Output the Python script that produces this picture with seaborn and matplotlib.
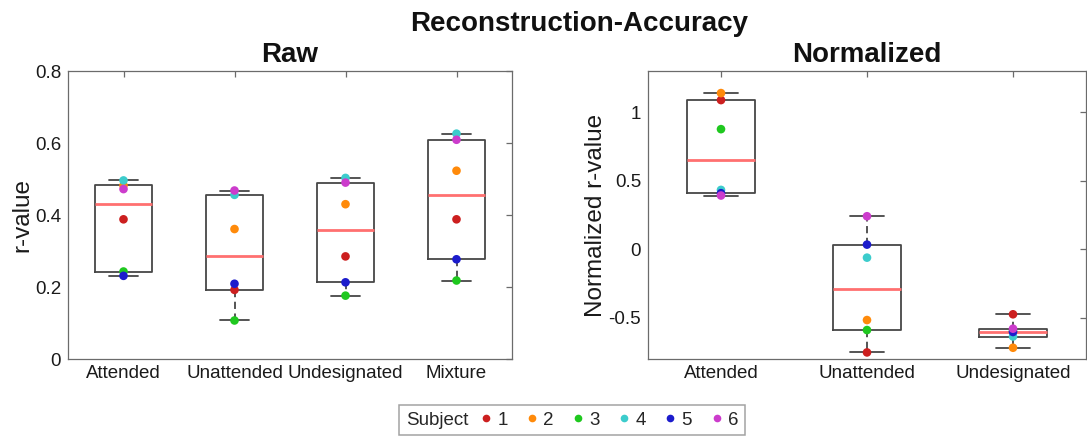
import numpy as np
import pandas as pd
import matplotlib
matplotlib.use("Agg")
import matplotlib as mpl
import matplotlib.pyplot as plt
from matplotlib.lines import Line2D
from matplotlib.ticker import FuncFormatter
from matplotlib.offsetbox import HPacker
import seaborn as sns

# ---------------- data ----------------
subjects = ["1", "2", "3", "4", "5", "6"]
subject_colors = ["#CC1F1F", "#FF8A0A", "#1FC81F", "#3CCCCC", "#1C1CCC", "#CC3CCC"]

raw_categories = ["Attended", "Unattended", "Undesignated", "Mixture"]
raw_attended = [0.388, 0.482, 0.243, 0.496, 0.231, 0.472]
raw_unattended = [0.192, 0.361, 0.107, 0.456, 0.209, 0.468]
raw_undesignated = [0.285, 0.430, 0.176, 0.503, 0.213, 0.490]
raw_mixture = [0.388, 0.523, 0.218, 0.626, 0.277, 0.609]

norm_categories = ["Attended", "Unattended", "Undesignated"]
norm_attended = [1.088, 1.139, 0.876, 0.433, 0.409, 0.392]
norm_unattended = [-0.752, -0.516, -0.589, -0.061, 0.034, 0.241]
norm_undesignated = [-0.474, -0.718, -0.597, -0.636, -0.603, -0.579]

raw_yticks = [0, 0.2, 0.4, 0.6, 0.8]
norm_yticks = [-0.5, 0, 0.5, 1]

suptitle = "Reconstruction-Accuracy"
raw_title = "Raw"
norm_title = "Normalized"
raw_ylabel = "r-value"
norm_ylabel = "Normalized r-value"
legend_title = "Subject"


def long_df(categories, series):
    rows = []
    for cat, vals in zip(categories, series):
        for s, v in zip(subjects, vals):
            rows.append((cat, s, v))
    return pd.DataFrame(rows, columns=["Condition", "Subject", "value"])


raw_df = long_df(raw_categories, [raw_attended, raw_unattended, raw_undesignated, raw_mixture])
norm_df = long_df(norm_categories, [norm_attended, norm_unattended, norm_undesignated])

# MATLAB-style quartiles (prctile uses midpoint / "hazen" interpolation)
_orig_stats = mpl.cbook.boxplot_stats


def _prctile_stats(X, whis=1.5, bootstrap=None, labels=None, autorange=False):
    out = _orig_stats(X, whis=whis, bootstrap=bootstrap, labels=labels, autorange=autorange)
    for st, x in zip(out, X):
        q1, med, q3 = np.percentile(np.asarray(x, float), [25, 50, 75], method="hazen")
        st["q1"], st["med"], st["q3"], st["iqr"] = q1, med, q3, q3 - q1
    return out


mpl.cbook.boxplot_stats = _prctile_stats

# ---------------- style ----------------
sns.set_theme(style="white")
plt.rcParams["font.family"] = ["Liberation Sans", "DejaVu Sans"]

W, H = 1087, 437
fig = plt.figure(figsize=(W / 100, H / 100), dpi=100)

spine_color = "#6b6b6b"
box_color = "#474747"
median_color = "#FF7070"


def panel(rect, df, categories, width, ylim, yticks, title, ylabel):
    ax = fig.add_axes(rect)
    sns.boxplot(data=df, x="Condition", y="value", order=categories, ax=ax,
                width=width, whis=(0, 100), fill=False, color=box_color,
                linecolor=box_color, linewidth=1.3, showfliers=False,
                medianprops=dict(color=median_color, linewidth=2.0),
                whiskerprops=dict(linestyle=(0, (4, 2.5))))
    sns.stripplot(data=df, x="Condition", y="value", order=categories,
                  hue="Subject", hue_order=subjects, palette=subject_colors,
                  jitter=False, size=6.2, linewidth=0, ax=ax, legend=False,
                  zorder=4)
    ax.set_xlim(-0.5, len(categories) - 0.5)
    ax.set_ylim(*ylim)
    ax.set_yticks(yticks)
    ax.yaxis.set_major_formatter(FuncFormatter(lambda v, p: f"{v:g}"))
    for sp in ax.spines.values():
        sp.set_visible(True)
        sp.set_color(spine_color)
        sp.set_linewidth(0.9)
    ax.tick_params(axis="both", which="both", direction="in", top=True, right=True,
                   length=4, width=0.9, color=spine_color, labelsize=13.5,
                   labelcolor="#1a1a1a")
    ax.tick_params(axis="x", pad=4)
    ax.tick_params(axis="y", pad=5)
    ax.set_xlabel("")
    ax.set_ylabel(ylabel, fontsize=17.5, labelpad=1, color="#1a1a1a")
    ax.set_title(title, fontsize=20, fontweight="bold", pad=6.5, color="#111111")
    return ax


ax1 = panel([68 / W, (H - 359) / H, 444 / W, 288 / H], raw_df, raw_categories,
            0.51, (0, 0.8), raw_yticks, raw_title, raw_ylabel)
ax2 = panel([648 / W, (H - 359) / H, 438 / W, 288 / H], norm_df, norm_categories,
            0.46, (-0.8, 1.3), norm_yticks, norm_title, norm_ylabel)

fig.text(579 / W, 1 - 31 / H, suptitle, ha="center", va="baseline",
         fontsize=20, fontweight="bold", color="#111111")

handles = [Line2D([], [], linestyle="none", marker="o", markersize=5.5,
                  markerfacecolor=c, markeredgewidth=0) for c in subject_colors]
leg = fig.legend(handles, subjects, loc="lower center", bbox_to_anchor=(572 / W, 0.0),
                 ncol=6, title=legend_title, fontsize=13.5, title_fontsize=13.5,
                 frameon=True, fancybox=False, edgecolor="#8c8c8c",
                 handlelength=0.6, handletextpad=0.3, columnspacing=1.0,
                 borderpad=0.35, borderaxespad=0.1)
leg.get_frame().set_linewidth(1.1)
row = HPacker(pad=0, sep=9, align="baseline",
              children=[leg._legend_title_box, leg._legend_handle_box])
leg._legend_box._children = [row]

fig.savefig("out.png", dpi=100)
